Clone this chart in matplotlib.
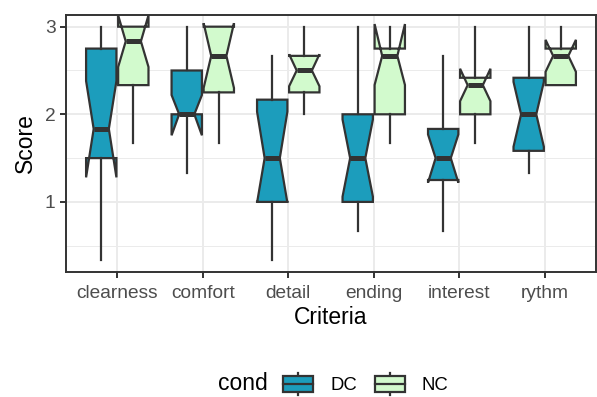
import matplotlib
matplotlib.use("Agg")
import matplotlib.pyplot as plt
from matplotlib.patches import Rectangle, Patch
from matplotlib.lines import Line2D
from matplotlib.legend_handler import HandlerBase
import numpy as np

plt.rcParams['font.family'] = ['Liberation Sans', 'DejaVu Sans']

criteria = ["clearness", "comfort", "detail", "ending", "interest", "rythm"]
conds = ["DC", "NC"]

# DC stats
dc_whislo = [0.333, 1.333, 0.333, 0.667, 0.667, 1.333]
dc_q1     = [1.5,   2.0,   1.0,   1.0,   1.25,  1.583]
dc_cilo   = [1.28,  1.76,  0.99,  1.06,  1.22,  1.63]
dc_med    = [1.833, 2.0,   1.5,   1.5,   1.5,   2.0]
dc_cihi   = [2.38,  2.22,  2.03,  1.94,  1.77,  2.37]
dc_q3     = [2.75,  2.5,   2.167, 2.0,   1.833, 2.417]
dc_whishi = [3.0,   3.0,   2.667, 3.0,   2.667, 3.0]

# NC stats
nc_whislo = [1.667, 1.667, 2.0,   1.667, 1.667, 2.333]
nc_q1     = [2.333, 2.25,  2.25,  2.0,   2.0,   2.333]
nc_cilo   = [2.54,  2.30,  2.32,  2.335, 2.15,  2.485]
nc_med    = [2.833, 2.667, 2.5,   2.667, 2.333, 2.667]
nc_cihi   = [3.13,  3.04,  2.685, 3.03,  2.52,  2.85]
nc_q3     = [3.0,   3.0,   2.667, 2.75,  2.417, 2.75]
nc_whishi = [3.0,   3.0,   3.0,   3.0,   3.0,   3.0]

colors = {"DC": "#1C9DBC", "NC": "#D2FACD"}
edge = "#333333"

def make_stats(wl, q1, cl, md, ch, q3, wh):
    return [dict(whislo=a, q1=b, cilo=c, med=d, cihi=e, q3=f, whishi=g, fliers=[])
            for a, b, c, d, e, f, g in zip(wl, q1, cl, md, ch, q3, wh)]

dc_stats = make_stats(dc_whislo, dc_q1, dc_cilo, dc_med, dc_cihi, dc_q3, dc_whishi)
nc_stats = make_stats(nc_whislo, nc_q1, nc_cilo, nc_med, nc_cihi, nc_q3, nc_whishi)

W, H = 597, 397
fig = plt.figure(figsize=(W / 100, H / 100), dpi=100)
ax = fig.add_axes([66 / W, 1 - 272 / H, (596 - 66) / W, (272 - 15) / H])

x = np.arange(1, len(criteria) + 1)
off = 0.1875
bw = 0.355
for stats, pos, c in [(dc_stats, x - off, colors["DC"]), (nc_stats, x + off, colors["NC"])]:
    ax.bxp(stats, positions=pos, widths=bw, shownotches=True, showcaps=False,
           showfliers=False, patch_artist=True, manage_ticks=False,
           boxprops=dict(facecolor=c, edgecolor=edge, linewidth=1.6, joinstyle='miter'),
           whiskerprops=dict(color=edge, linewidth=1.6),
           medianprops=dict(color=edge, linewidth=3.6, solid_capstyle='butt'))

ax.set_xlim(0.4, 6.6)
ax.set_ylim(0.2, 3.1333)
ax.set_xticks(x)
ax.set_xticklabels(criteria)
ax.set_yticks([1, 2, 3])
ax.set_yticks([0.5, 1.5, 2.5], minor=True)
ax.set_xticks([], minor=True)
ax.grid(True, which='major', color='#EBEBEB', linewidth=1.4, zorder=0)
ax.grid(True, which='minor', axis='y', color='#EBEBEB', linewidth=0.7, zorder=0)
ax.set_axisbelow(True)
for s in ax.spines.values():
    s.set_color(edge)
    s.set_linewidth(1.4)
ax.tick_params(axis='both', which='major', length=4.5, width=1.4, color=edge,
               labelsize=13.8, labelcolor='#4D4D4D', pad=3)
ax.tick_params(axis='x', which='major', pad=4.5)
ax.tick_params(axis='y', which='minor', length=0)
ax.set_xlabel("Criteria", fontsize=16.5, labelpad=3)
ax.set_ylabel("Score", fontsize=16.5, labelpad=6)


class BoxHandler(HandlerBase):
    def create_artists(self, legend, orig_handle, xdescent, ydescent, width, height, fontsize, trans):
        fc = orig_handle.get_facecolor()
        x0, y0 = -xdescent, -ydescent
        bh = height * 0.77
        by = y0 + (height - bh) / 2
        r = Rectangle((x0, by), width, bh, facecolor=fc, edgecolor=edge, linewidth=1.6, transform=trans)
        m = Line2D([x0, x0 + width], [y0 + height / 2] * 2, color=edge, linewidth=1.6, transform=trans)
        w1 = Line2D([x0 + width / 2] * 2, [y0, by], color=edge, linewidth=1.6, transform=trans)
        w2 = Line2D([x0 + width / 2] * 2, [by + bh, y0 + height], color=edge, linewidth=1.6, transform=trans)
        return [w1, w2, r, m]


handles = [Patch(facecolor=colors[c]) for c in conds]
fs = 13.3
px = fs * 100 / 72
fig.text(218 / W, 1 - 384 / H, "cond", fontsize=16.5, ha='left', va='center')
fig.legend(handles, conds, loc='center left', bbox_to_anchor=(283 / W, 1 - 384 / H),
           ncol=2, frameon=False, fontsize=fs,
           handler_map={Patch: BoxHandler()},
           handlelength=30 / px, handleheight=26 / px, handletextpad=17 / px,
           columnspacing=18 / px, borderpad=0, borderaxespad=0)

fig.savefig("out.png", dpi=100)
